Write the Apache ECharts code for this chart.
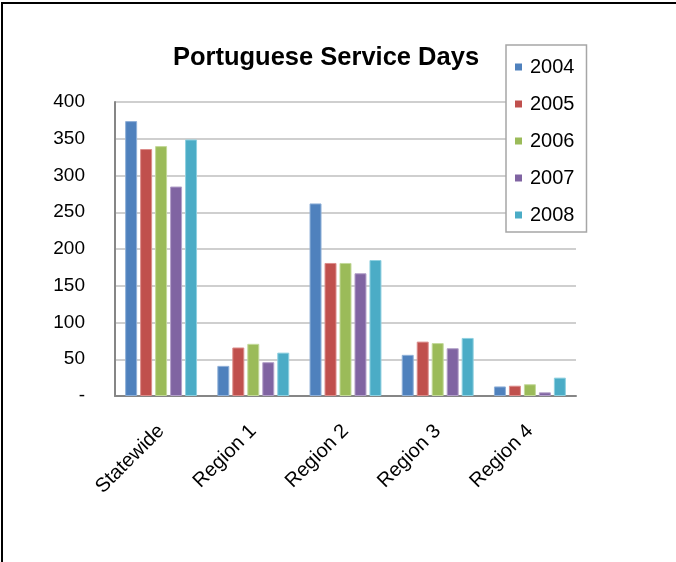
<!DOCTYPE html>
<html>
<head>
<meta charset="utf-8">
<script src="https://cdn.jsdelivr.net/npm/echarts@6/dist/echarts.min.js"></script>
<style>
  html, body { margin: 0; padding: 0; background: #fff; }
  #frame { position: absolute; left: 1px; top: 2px; width: 675px; height: 560px;
           box-sizing: border-box; border-top: 2px solid #000; border-left: 2px solid #000; }
  #chart { position: absolute; left: 0; top: 0; width: 676px; height: 562px; }
</style>
</head>
<body>
<div id="chart"></div>
<div id="frame"></div>
<script>
// Portuguese service days by area and year
const categories = ['Statewide', 'Region 1', 'Region 2', 'Region 3', 'Region 4'];
const years = ['2004', '2005', '2006', '2007', '2008'];
const days2004 = [374, 41, 262, 56, 13];
const days2005 = [336, 66, 181, 74, 14];
const days2006 = [340, 71, 181, 72, 16];
const days2007 = [285, 46, 167, 65, 5];
const days2008 = [349, 59, 185, 79, 25];
const yTicks = [0, 50, 100, 150, 200, 250, 300, 350, 400];

const colors = ['#4F81BD', '#C0504D', '#9BBB59', '#8064A2', '#4BACC6'];
const edges = ['#8fb0d8', '#dc8d8b', '#c3d99a', '#b3a0c9', '#8fd0e0'];
const seriesValues = [days2004, days2005, days2006, days2007, days2008];

const font = 'Liberation Sans, Arial, sans-serif';
const chart = echarts.init(document.getElementById('chart'), null, { renderer: 'canvas' });

chart.setOption({
  animation: false,
  backgroundColor: '#ffffff',
  color: colors,
  title: {
    text: 'Portuguese Service Days',
    left: 321, top: 40, textAlign: 'center',
    textStyle: { fontFamily: font, fontSize: 25.5, fontWeight: 'bold', color: '#000' }
  },
  legend: {
    orient: 'vertical',
    left: 506, top: 45,
    padding: [12, 12, 7, 9],
    itemGap: 17,
    itemWidth: 7, itemHeight: 7,
    icon: 'rect',
    itemStyle: { borderWidth: 0 },
    borderColor: '#a6a6a6', borderWidth: 1.5,
    backgroundColor: '#fff',
    textStyle: { fontFamily: font, fontSize: 20, color: '#000', padding: [0, 0, 0, 3] },
    data: years
  },
  grid: { left: 115, right: 100, top: 102, bottom: 166, containLabel: false },
  xAxis: {
    type: 'category',
    data: categories,
    axisLine: { lineStyle: { color: '#868686', width: 2 } },
    axisTick: { show: false },
    axisLabel: { rotate: 45, margin: 32, fontFamily: font, fontSize: 20, color: '#000', interval: 0 }
  },
  yAxis: {
    type: 'value',
    min: yTicks[0], max: yTicks[yTicks.length - 1], interval: 50,
    axisLine: { show: true, lineStyle: { color: '#868686', width: 2 } },
    axisTick: { show: false },
    splitLine: { lineStyle: { color: '#bfbfbf', width: 1.5 } },
    axisLabel: {
      margin: 30, fontFamily: font, fontSize: 19, color: '#000',
      formatter: v => (v === 0 ? '-' : String(v))
    }
  },
  series: years.map((y, i) => ({
    name: y,
    type: 'bar',
    data: seriesValues[i],
    barGap: '25%',
    barCategoryGap: '22%',
    itemStyle: { color: colors[i], borderColor: edges[i], borderWidth: 1 }
  }))
});
</script>
</body>
</html>
